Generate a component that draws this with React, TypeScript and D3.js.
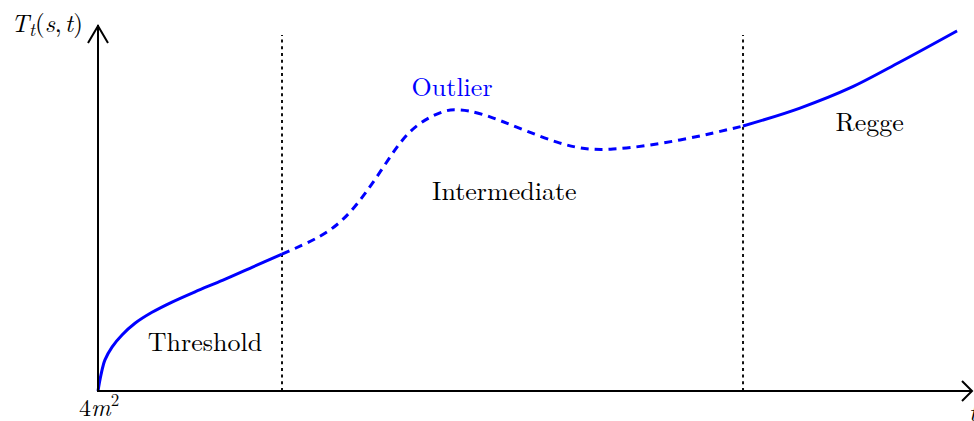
import React from "react";
import * as d3 from "d3";

// Data (x in abstract units 0..10, y in 0..10)
const thresholdX = [0, 0.034, 0.08, 0.161, 0.276, 0.425, 0.621, 0.851, 1.115, 1.437, 1.77, 2.115];
const thresholdY = [0, 0.44, 0.85, 1.2, 1.53, 1.85, 2.15, 2.43, 2.71, 3.03, 3.38, 3.74];

const intermediateX = [2.115, 2.552, 2.897, 3.241, 3.586, 3.931, 4.126, 4.506, 5.276, 5.92, 6.69, 7.414];
const intermediateY = [3.74, 4.23, 4.89, 5.98, 7.08, 7.6, 7.68, 7.49, 6.8, 6.61, 6.86, 7.24];

const reggeX = [7.414, 8.069, 8.644, 9.218, 9.874];
const reggeY = [7.24, 7.73, 8.28, 8.99, 9.84];

const boundaries = [2.115, 7.414];
const boundaryTop = 9.73;

const regionLabels = ["Threshold", "Intermediate", "Regge"];
const regionLabelX = [1.23, 4.67, 8.87];
const regionLabelY = [1.1, 5.22, 7.1];

const outlierLabel = "Outlier";
const outlierX = [4.07];
const outlierY = [8.07];

const W = 974;
const H = 421;

export default function App() {
  const x = d3.scaleLinear().domain([0, 10]).range([98, 968]);
  const y = d3.scaleLinear().domain([0, 10]).range([391, 25]);

  const mkLine = (curve: d3.CurveFactory) =>
    d3
      .line<[number, number]>()
      .x((d) => x(d[0]))
      .y((d) => y(d[1]))
      .curve(curve);

  const crLine = mkLine(d3.curveCatmullRom.alpha(0.5));
  const monoLine = mkLine(d3.curveMonotoneX);
  const smoothLine = mkLine(d3.curveNatural);

  const zip = (a: number[], b: number[]) => a.map((v, i) => [v, b[i]] as [number, number]);

  const serif = "'Latin Modern Roman', 'Liberation Serif', 'DejaVu Serif', serif";
  const fs = 26;

  const ox = x(0);
  const oy = y(0);
  const yTop = 25;
  const xEnd = 972;

  return (
    <svg
      width={W}
      height={H}
      style={{ position: "absolute", left: 0, top: 0, background: "#fff" }}
      fontFamily={serif}
    >
      {/* boundaries */}
      {boundaries.map((b, i) => (
        <line
          key={i}
          x1={x(b)}
          x2={x(b)}
          y1={y(0)}
          y2={y(boundaryTop)}
          stroke="#111"
          strokeWidth={2}
          strokeDasharray="3 3.7"
        />
      ))}

      {/* curve */}
      <path d={crLine(zip(thresholdX, thresholdY)) || ""} fill="none" stroke="#0000ff" strokeWidth={3} />
      <path
        d={smoothLine(zip(intermediateX, intermediateY)) || ""}
        fill="none"
        stroke="#0000ff"
        strokeWidth={3}
        strokeDasharray="8 6"
      />
      <path d={monoLine(zip(reggeX, reggeY)) || ""} fill="none" stroke="#0000ff" strokeWidth={3} />

      {/* axes */}
      <line x1={ox} y1={oy + 1} x2={ox} y2={yTop} stroke="#000" strokeWidth={2} />
      <line x1={ox - 1} y1={oy} x2={xEnd} y2={oy} stroke="#000" strokeWidth={2} />
      <polyline
        points={`${ox - 10},${yTop + 18} ${ox},${yTop + 1} ${ox + 10},${yTop + 18}`}
        fill="none"
        stroke="#000"
        strokeWidth={2}
      />
      <polyline
        points={`${xEnd - 10},${oy - 10} ${xEnd},${oy} ${xEnd - 10},${oy + 10}`}
        fill="none"
        stroke="#000"
        strokeWidth={2}
      />

      {/* axis labels */}
      <text x={11} y={32} fontSize={25} fill="#000">
        <tspan fontStyle="italic">T</tspan>
        <tspan fontStyle="italic" fontSize={18} dy={4}>t</tspan>
        <tspan dy={-4}>(</tspan>
        <tspan fontStyle="italic">s</tspan>
        <tspan>,</tspan>
        <tspan fontStyle="italic" dx={3}>t</tspan>
        <tspan>)</tspan>
      </text>
      <text x={79} y={416} fontSize={24} fill="#000">
        <tspan>4</tspan>
        <tspan fontStyle="italic">m</tspan>
        <tspan fontSize={17} dy={-10}>2</tspan>
      </text>
      <text x={969} y={421} fontSize={24} fontStyle="italic" fill="#000">
        t
      </text>

      {/* region labels */}
      {regionLabels.map((l, i) => (
        <text
          key={l}
          x={x(regionLabelX[i])}
          y={y(regionLabelY[i])}
          fontSize={fs}
          textAnchor="middle"
          fill="#000"
        >
          {l}
        </text>
      ))}
      <text x={x(outlierX[0])} y={y(outlierY[0])} fontSize={fs} textAnchor="middle" fill="#0000ff">
        {outlierLabel}
      </text>
    </svg>
  );
}
